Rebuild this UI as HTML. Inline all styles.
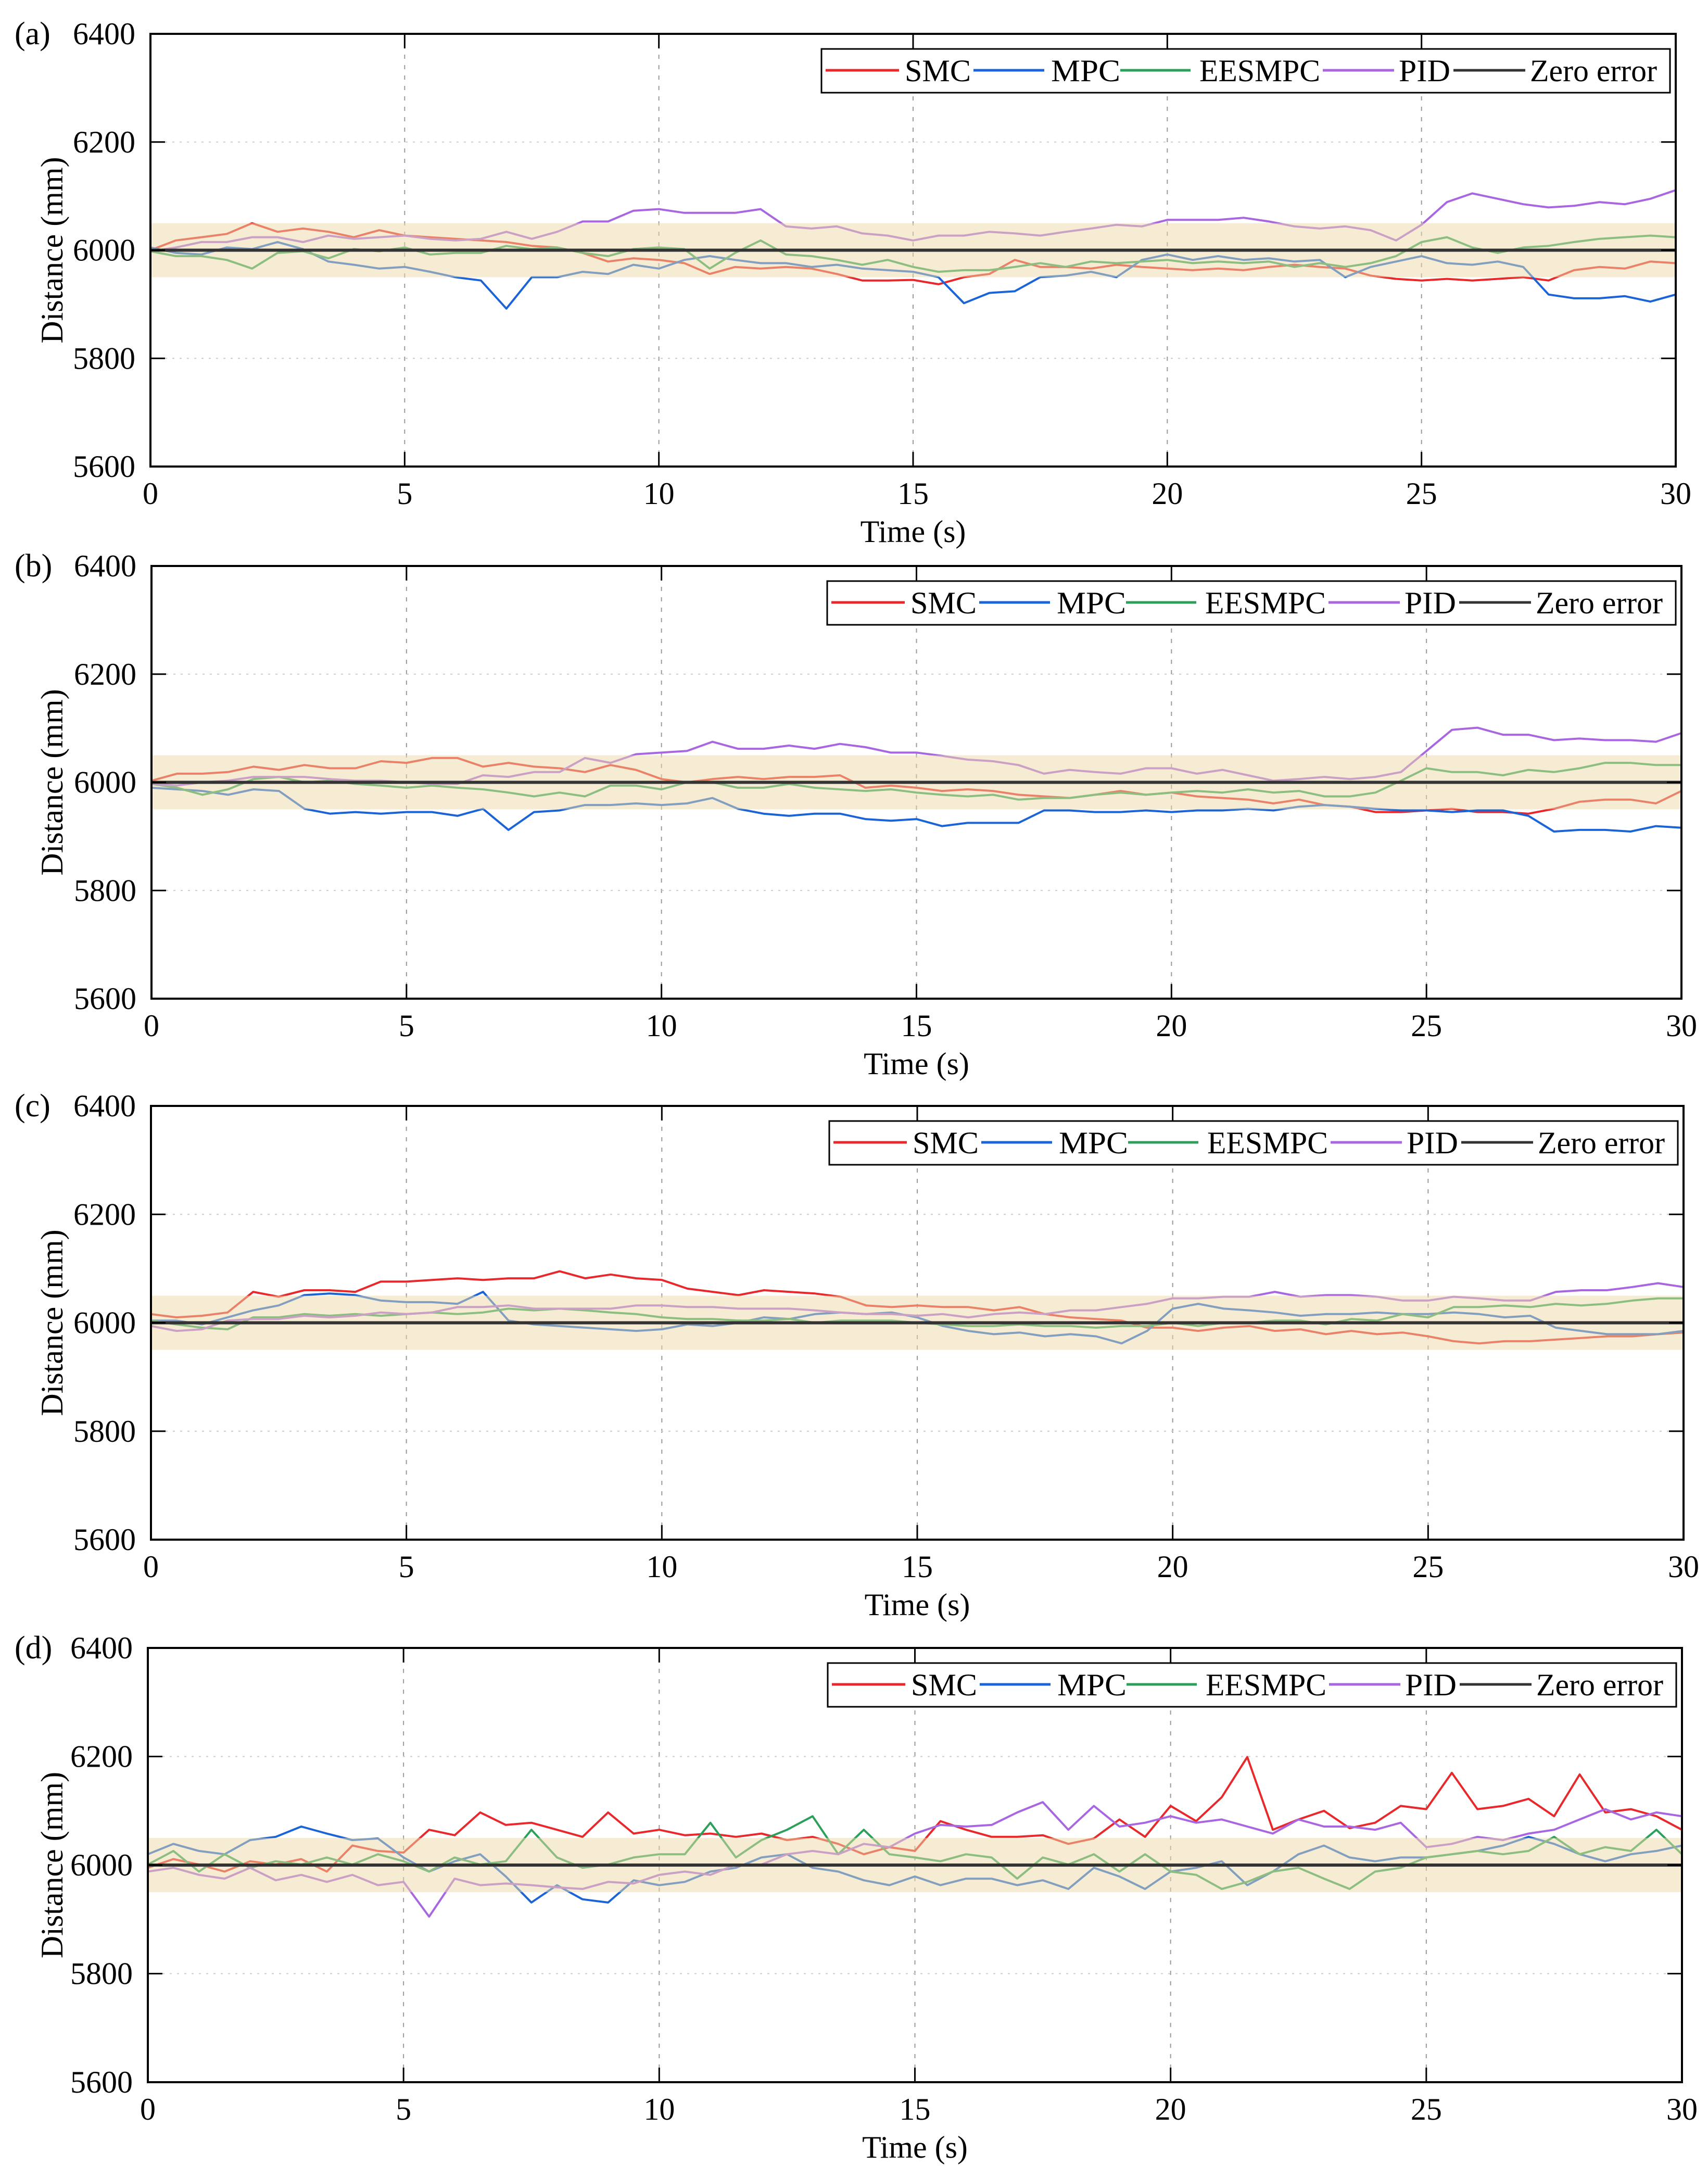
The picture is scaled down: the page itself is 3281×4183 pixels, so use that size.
<!DOCTYPE html>
<html><head><meta charset="utf-8"><title>Distance tracking comparison</title>
<style>
html,body{margin:0;padding:0;background:#fff;}
svg{display:block;}
text{font-family:"Liberation Serif","Times New Roman",serif;fill:#000;}
</style></head>
<body>
<svg id="fig" width="3281" height="4183" viewBox="0 0 3281 4183" xmlns="http://www.w3.org/2000/svg"></svg>
<script>
const timeStep = 0.5;
const xTicks = [0,5,10,15,20,25,30];
const yTicks = [5600,5800,6000,6200,6400];
const seriesNames = ["SMC","MPC","EESMPC","PID"];
const panelLabels = ["(a)","(b)","(c)","(d)"];

const smcA = [6000,6018,6024,6030,6050,6034,6040,6034,6024,6037,6027,6024,6021,6018,6015,6008,6005,5995,5979,5985,5982,5976,5956,5969,5966,5969,5966,5956,5944,5944,5945,5937,5950,5956,5982,5969,5969,5966,5973,5969,5966,5963,5966,5963,5969,5973,5969,5966,5953,5947,5944,5947,5944,5947,5950,5944,5963,5969,5966,5979,5976];
const mpcA = [6005,5995,5992,6005,6002,6015,6002,5979,5973,5966,5969,5960,5950,5944,5892,5950,5950,5960,5956,5973,5966,5982,5989,5982,5976,5976,5969,5973,5966,5963,5960,5950,5902,5921,5924,5950,5953,5960,5950,5982,5992,5982,5989,5982,5985,5979,5982,5950,5969,5979,5989,5976,5973,5979,5969,5918,5911,5911,5915,5905,5918];
const eesA = [5998,5989,5989,5982,5966,5995,5998,5985,6002,5998,6005,5992,5995,5995,6008,6002,6005,5995,5989,6002,6005,6002,5966,5995,6018,5992,5989,5982,5973,5982,5969,5960,5963,5963,5969,5976,5969,5979,5976,5979,5982,5976,5979,5976,5979,5969,5976,5969,5976,5989,6015,6024,6005,5995,6005,6008,6015,6021,6024,6027,6024];
const pidA = [5998,6005,6015,6015,6024,6024,6015,6027,6021,6024,6027,6021,6018,6021,6034,6021,6034,6053,6053,6073,6076,6069,6069,6069,6076,6044,6040,6044,6031,6027,6018,6027,6027,6034,6031,6027,6034,6040,6047,6044,6056,6056,6056,6060,6053,6044,6040,6044,6037,6018,6047,6089,6105,6095,6085,6079,6082,6089,6085,6095,6111];

const smcB = [6003,6016,6016,6019,6029,6023,6032,6026,6026,6039,6036,6045,6045,6029,6036,6029,6026,6019,6032,6023,6006,6000,6006,6010,6006,6010,6010,6013,5990,5994,5990,5984,5987,5984,5977,5974,5971,5977,5984,5977,5981,5974,5971,5968,5961,5968,5958,5955,5945,5945,5948,5951,5945,5945,5942,5951,5964,5968,5968,5961,5984];
const mpcB = [5990,5987,5984,5977,5987,5984,5951,5942,5945,5942,5945,5945,5938,5951,5912,5945,5948,5958,5958,5961,5958,5961,5971,5951,5942,5938,5942,5942,5932,5929,5932,5919,5925,5925,5925,5948,5948,5945,5945,5948,5945,5948,5948,5951,5948,5955,5958,5955,5951,5948,5948,5945,5948,5948,5938,5909,5912,5912,5909,5919,5916];
const eesB = [5997,5990,5977,5987,6006,6010,6000,6003,5997,5994,5990,5994,5990,5987,5981,5974,5981,5974,5994,5994,5987,6000,6000,5990,5990,5997,5990,5987,5984,5987,5981,5977,5974,5977,5968,5971,5971,5977,5981,5977,5981,5984,5981,5987,5981,5984,5974,5974,5981,6003,6026,6019,6019,6013,6023,6019,6026,6036,6036,6032,6032];
const pidB = [5997,5994,6000,6003,6010,6010,6010,6006,6003,6003,6000,5997,5997,6013,6010,6019,6019,6045,6036,6052,6055,6058,6075,6062,6062,6068,6062,6071,6065,6055,6055,6049,6042,6039,6032,6016,6023,6019,6016,6026,6026,6016,6023,6013,6003,6006,6010,6006,6010,6019,6058,6097,6101,6088,6088,6078,6081,6078,6078,6075,6091];

const smcC = [6016,6010,6013,6019,6057,6048,6060,6060,6057,6076,6076,6079,6082,6079,6082,6082,6095,6082,6089,6082,6079,6063,6057,6051,6060,6057,6054,6048,6032,6029,6032,6029,6029,6023,6029,6016,6010,6007,6004,5991,5991,5985,5991,5994,5985,5988,5979,5985,5979,5982,5975,5966,5962,5966,5966,5969,5972,5975,5975,5979,5982];
const mpcC = [6004,6004,5997,6010,6023,6032,6051,6054,6051,6041,6038,6038,6035,6057,6004,5997,5994,5991,5988,5985,5988,5997,5994,6000,6010,6007,6016,6019,6016,6019,6010,5994,5985,5979,5982,5975,5979,5975,5962,5985,6026,6035,6026,6023,6019,6013,6016,6016,6019,6016,6016,6019,6016,6010,6013,5991,5985,5979,5979,5979,5985];
const eesC = [6004,5997,5991,5988,6010,6010,6016,6013,6016,6013,6016,6019,6016,6019,6026,6023,6026,6023,6019,6016,6010,6007,6007,6004,6004,6007,6000,6004,6004,6004,6000,5997,5994,5994,5997,5994,5994,5991,5994,5994,6000,5994,6000,6000,6004,6004,5997,6007,6004,6016,6010,6029,6029,6032,6029,6035,6032,6035,6041,6045,6045];
const pidC = [5994,5985,5988,6004,6007,6007,6013,6010,6013,6019,6016,6019,6029,6029,6032,6026,6026,6026,6026,6032,6032,6029,6029,6026,6026,6026,6023,6019,6016,6016,6013,6016,6010,6016,6019,6016,6023,6023,6029,6035,6045,6045,6048,6048,6057,6048,6051,6051,6048,6041,6041,6048,6045,6041,6041,6057,6060,6060,6066,6073,6066];

const smcD = [5995,6011,6001,5988,6007,6001,6011,5988,6036,6026,6023,6065,6055,6097,6074,6078,6065,6052,6097,6058,6065,6055,6058,6052,6058,6046,6052,6039,6020,6033,6026,6081,6065,6052,6052,6055,6039,6049,6084,6052,6109,6081,6125,6199,6065,6084,6100,6068,6078,6109,6103,6170,6103,6109,6122,6090,6167,6097,6103,6090,6065];
const mpcD = [6020,6039,6026,6020,6046,6052,6071,6058,6046,6049,6014,5988,6007,6020,5979,5931,5963,5937,5931,5972,5963,5969,5988,5995,6014,6020,5995,5988,5972,5963,5979,5963,5975,5975,5963,5972,5956,5995,5979,5956,5988,5995,6007,5963,5988,6020,6036,6014,6007,6014,6014,6020,6026,6036,6052,6039,6020,6007,6020,6026,6036];
const eesD = [6001,6026,5988,6020,5995,6007,6001,6014,6001,6020,6007,5988,6014,6001,6007,6065,6014,5995,6001,6014,6020,6020,6078,6014,6046,6065,6090,6020,6065,6020,6014,6007,6020,6014,5975,6014,6001,6020,5988,6020,5988,5982,5956,5969,5988,5995,5975,5956,5988,5995,6014,6020,6026,6020,6026,6052,6020,6033,6026,6065,6020];
const pidD = [5988,5995,5982,5975,5995,5972,5982,5969,5982,5963,5969,5905,5975,5963,5966,5963,5959,5956,5969,5966,5982,5988,5982,6001,6001,6020,6026,6020,6039,6033,6058,6074,6071,6074,6097,6116,6065,6109,6071,6078,6090,6078,6084,6071,6058,6084,6071,6071,6065,6078,6033,6039,6052,6046,6058,6065,6084,6103,6084,6097,6090];

const panelSeries = [[smcA,mpcA,eesA,pidA],[smcB,mpcB,eesB,pidB],[smcC,mpcC,eesC,pidC],[smcD,mpcD,eesD,pidD]];
const colors = ["#e8282b","#1a64d8","#2ca05a","#a866e0"];
const panels = [
  {L:289,T:65,R:3219,B:896},
  {L:291,T:1087,R:3230,B:1918},
  {L:290,T:2124,R:3234,B:2957},
  {L:284,T:3165,R:3231,B:3999}
];
const NS = "http://www.w3.org/2000/svg";
const svg = document.getElementById('fig');
function mk(tag, attrs, parent){
  const e = document.createElementNS(NS, tag);
  for (const k in attrs) e.setAttribute(k, attrs[k]);
  (parent||svg).appendChild(e);
  return e;
}
panels.forEach((p, pi) => {
  const g = mk('g', {});
  
  
  const xs = t => p.L + (t/30)*(p.R-p.L);
  const ys = v => p.B - ((v-5600)/800)*(p.B-p.T);
  xTicks.slice(1,-1).forEach(t => {
    const l = mk('line', {x1:xs(t),x2:xs(t),y1:p.T,y2:p.B,stroke:'#999','stroke-width':2,'stroke-dasharray':'8 12'}, g);
    
    
  });
  [5800,6200].forEach(v => {
    const l = mk('line', {x1:p.L,x2:p.R,y1:ys(v),y2:ys(v),stroke:'#ccc','stroke-width':2,'stroke-dasharray':'4 10'}, g);
    
    
  });
  panelSeries[pi].forEach((vals, si) => {
    const pts = vals.map((v,i) => xs(i*timeStep).toFixed(1)+','+ys(v).toFixed(1)).join(' ');
    const pl = mk('polyline', {points:pts,fill:'none',stroke:colors[si],'stroke-width':4,'stroke-linejoin':'round'}, g);
    
    
  });
  const band = mk('rect', {x:p.L,y:ys(6050),width:p.R-p.L,height:ys(5950)-ys(6050),fill:'#ecd9a8','fill-opacity':0.5}, g);
  
  
  const zl = mk('line', {x1:p.L,x2:p.R,y1:ys(6000),y2:ys(6000),stroke:'#333','stroke-width':6}, g);
  
  
  const fr = mk('rect', {x:p.L,y:p.T,width:p.R-p.L,height:p.B-p.T,fill:'none',stroke:'#000','stroke-width':4}, g);
  
  
  xTicks.forEach(t => {
    mk('line', {x1:xs(t),x2:xs(t),y1:p.B,y2:p.B-28,stroke:'#000','stroke-width':3}, g);
    mk('line', {x1:xs(t),x2:xs(t),y1:p.T,y2:p.T+28,stroke:'#000','stroke-width':3}, g);
    const tx = mk('text', {x:xs(t),y:p.B+72,'font-size':60,'text-anchor':'middle'}, g);
    tx.textContent = t;
    
    
  });
  yTicks.forEach(v => {
    mk('line', {x1:p.L,x2:p.L+28,y1:ys(v),y2:ys(v),stroke:'#000','stroke-width':3}, g);
    mk('line', {x1:p.R,x2:p.R-28,y1:ys(v),y2:ys(v),stroke:'#000','stroke-width':3}, g);
    const tx = mk('text', {x:p.L-29,y:ys(v)+20,'font-size':60,'text-anchor':'end'}, g);
    tx.textContent = v;
    
    
  });
  const xl = mk('text', {x:(p.L+p.R)/2,y:p.B+145,'font-size':60,'text-anchor':'middle'}, g);
  xl.textContent = 'Time (s)';
  
  
  const cy = (p.T+p.B)/2;
  const yl = mk('text', {x:0,y:0,'font-size':60,'text-anchor':'middle',transform:'translate(120,'+cy+') rotate(-90)'}, g);
  yl.textContent = 'Distance (mm)';
  
  
  const pl = mk('text', {x:28,y:p.T+20,'font-size':62}, g);
  pl.textContent = panelLabels[pi];
  
  
  const bx = p.R - 1641, by = p.T + 29;
  const lg = mk('g', {}, g);
  
  
  mk('rect', {x:bx,y:by,width:1630,height:84,fill:'#fff',stroke:'#000','stroke-width':3}, lg);
  const items = [
    {l1:8,l2:149,tx:160,w:127,label:'SMC',c:colors[0]},
    {l1:292,l2:428,tx:441,w:133,label:'MPC',c:colors[1]},
    {l1:574,l2:709,tx:726,w:232,label:'EESMPC',c:colors[2]},
    {l1:963,l2:1100,tx:1109,w:99,label:'PID',c:colors[3]},
    {l1:1214,l2:1352,tx:1361,w:244,label:'Zero error',c:'#333'}
  ];
  items.forEach(it => {
    const ll = mk('line', {x1:bx+it.l1,x2:bx+it.l2,y1:by+41,y2:by+41,stroke:it.c,'stroke-width':5}, lg);
    
    
    const t = mk('text', {x:bx+it.tx,y:by+62,'font-size':60,textLength:it.w,lengthAdjust:'spacingAndGlyphs'}, lg);
    t.textContent = it.label;
    
    
  });
});
</script>
</body></html>
